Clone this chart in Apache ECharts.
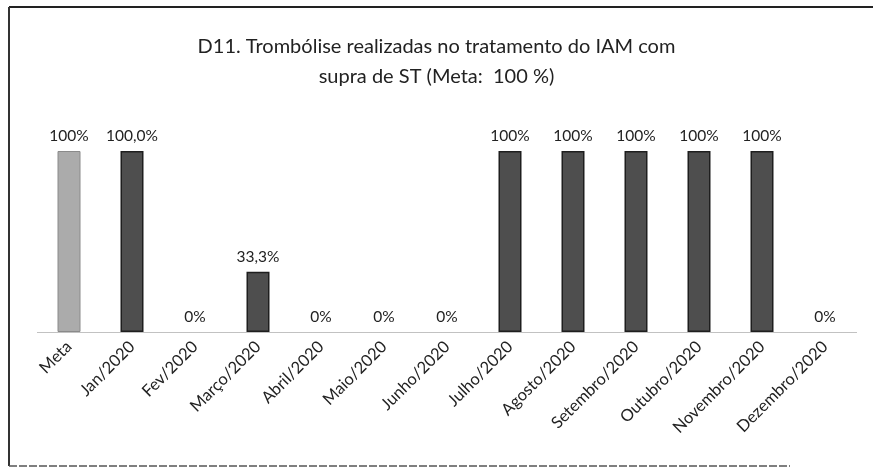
<!DOCTYPE html>
<html>
<head>
<meta charset="utf-8">
<script src="https://cdn.jsdelivr.net/npm/echarts@6/dist/echarts.min.js"></script>
<style>
  html, body { margin: 0; padding: 0; background: #fff; }
  #chart { width: 873px; height: 468px; }
</style>
</head>
<body>
<div id="chart"></div>
<script>
// dados
var categorias = ['Meta', 'Jan/2020', 'Fev/2020', 'Março/2020', 'Abril/2020', 'Maio/2020', 'Junho/2020',
  'Julho/2020', 'Agosto/2020', 'Setembro/2020', 'Outubro/2020', 'Novembro/2020', 'Dezembro/2020'];
var valores = [100, 100, 0, 33.3, 0, 0, 0, 100, 100, 100, 100, 100, 0];
var rotulos = ['100%', '100,0%', '0%', '33,3%', '0%', '0%', '0%', '100%', '100%', '100%', '100%', '100%', '0%'];

var chart = echarts.init(document.getElementById('chart'));

var dados = valores.map(function (v, i) {
  var estilo;
  if (i === 0) estilo = { color: '#ababab', borderColor: '#8a8a8a', borderWidth: 1 };
  else if (v === 0) estilo = { color: 'transparent', borderWidth: 0 };
  else estilo = { color: '#4e4e4e', borderColor: '#1e1e1e', borderWidth: 1.5 };
  return { value: v, itemStyle: estilo };
});

chart.setOption({
  animation: false,
  title: {
    text: 'D11. Trombólise realizadas no tratamento do IAM com\nsupra de ST (Meta:  100 %)',
    left: 'center',
    top: 27,
    textStyle: {
      fontFamily: 'Lato',
      fontWeight: 'normal',
      fontSize: 20,
      lineHeight: 30,
      color: '#222'
    }
  },
  grid: { left: 37.5, right: 16.5, top: 151, bottom: 136 },
  xAxis: {
    type: 'category',
    data: categorias,
    axisTick: { show: false },
    axisLine: { lineStyle: { color: '#bbb', type: 'dotted', width: 1 } },
    axisLabel: {
      rotate: 45,
      interval: 0,
      margin: 12,
      fontFamily: 'Lato',
      fontSize: 16.5,
      color: '#222'
    }
  },
  yAxis: {
    type: 'value',
    min: 0,
    max: 100,
    show: false
  },
  series: [{
    type: 'bar',
    data: dados,
    barWidth: 23,
    label: {
      show: true,
      position: 'top',
      distance: 7,
      fontFamily: 'Lato',
      fontSize: 15.5,
      color: '#222',
      formatter: function (p) { return rotulos[p.dataIndex]; }
    }
  }],
  graphic: [
    { type: 'line', shape: { x1: 9, y1: 7, x2: 873, y2: 7 }, style: { stroke: '#222', lineWidth: 2 } },
    { type: 'line', shape: { x1: 9, y1: 7, x2: 9, y2: 466 }, style: { stroke: '#333', lineWidth: 2 } },
    { type: 'line', shape: { x1: 9, y1: 466, x2: 790, y2: 466 }, style: { stroke: '#555', lineWidth: 1.5, lineDash: [8, 2] } }
  ]
});
</script>
</body>
</html>
